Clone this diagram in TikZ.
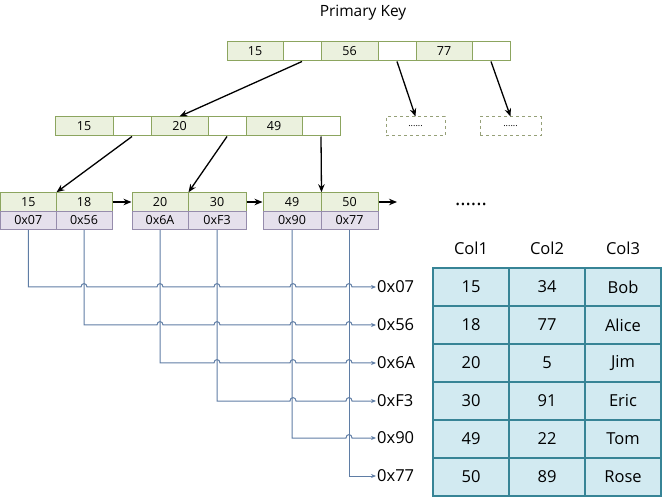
\documentclass[tikz,border=0pt]{standalone}
\usepackage{fontspec}
\setmainfont{Open Sans}
\usetikzlibrary{arrows.meta}
\definecolor{gfill}{RGB}{235,241,222}
\definecolor{gline}{RGB}{140,165,95}
\definecolor{pfill}{RGB}{229,224,236}
\definecolor{pline}{RGB}{150,140,172}
\definecolor{tfill}{RGB}{210,234,241}
\definecolor{tline}{RGB}{55,132,150}
\definecolor{bline}{RGB}{95,125,165}
\definecolor{dline}{RGB}{150,160,120}
\begin{document}
\begin{tikzpicture}[x=1pt,y=-1pt,
  cell/.style={draw=gline, line width=1pt, inner sep=0pt, minimum height=19pt, font=\fontsize{12.5}{14}\selectfont},
  gcell/.style={cell, fill=gfill},
  wcell/.style={cell, fill=white},
  lgcell/.style={cell, fill=gfill, minimum height=18.5pt},
  pcell/.style={cell, draw=pline, fill=pfill, minimum height=18.5pt},
  dbox/.style={draw=dline, dashed, line width=1pt, fill=white, inner sep=0pt, minimum height=19pt, font=\fontsize{9}{10}\selectfont},
  barrow/.style={draw=black, line width=1.3pt, -{Stealth[length=8pt,width=6.5pt]}},
  blconn/.style={draw=bline, line width=1pt, -{Stealth[length=5pt,width=4pt]}},
  addr/.style={anchor=west, inner sep=1pt, font=\fontsize{16.5}{18}\selectfont},
  tcell/.style={draw=tline, fill=tfill, line width=1.5pt, minimum width=76pt, minimum height=38pt, inner sep=0pt, font=\fontsize{16.5}{18}\selectfont},
  thead/.style={inner sep=0pt, font=\fontsize{16.5}{18}\selectfont}
]
\useasboundingbox (0,0) rectangle (662,497);

\node[font=\fontsize{15.5}{18}\selectfont] (title) at (363,13) {Primary Key};

% root
\node[gcell, minimum width=56] (t1) at (255,51.5) {15};
\node[wcell, minimum width=38] (t2) at (302,51.5) {};
\node[gcell, minimum width=57] (t3) at (349.5,51.5) {56};
\node[wcell, minimum width=38] (t4) at (397,51.5) {};
\node[gcell, minimum width=56] (t5) at (444,51.5) {77};
\node[wcell, minimum width=38] (t6) at (491,51.5) {};

% level 2
\node[gcell, minimum width=58] (l1) at (84,126.5) {15};
\node[wcell, minimum width=38] (l2) at (132,126.5) {};
\node[gcell, minimum width=57] (l3) at (179.5,126.5) {20};
\node[wcell, minimum width=38] (l4) at (227,126.5) {};
\node[gcell, minimum width=56] (l5) at (274,126.5) {49};
\node[wcell, minimum width=38] (l6) at (321,126.5) {};

\node[dbox, minimum width=59] (d1) at (415.5,126.5) {......};
\node[dbox, minimum width=61] (d2) at (510.5,126.5) {......};

% leaves
\node[lgcell, minimum width=55.5] (a1) at (28.25,202) {15};
\node[lgcell, minimum width=56] (a2) at (84,202) {18};
\node[pcell, minimum width=55.5] (a3) at (28.25,220.5) {0x07};
\node[pcell, minimum width=56] (a4) at (84,220.5) {0x56};

\node[lgcell, minimum width=56] (b1) at (160,202) {20};
\node[lgcell, minimum width=58] (b2) at (217,202) {30};
\node[pcell, minimum width=56] (b3) at (160,220.5) {0x6A};
\node[pcell, minimum width=58] (b4) at (217,220.5) {0xF3};

\node[lgcell, minimum width=58] (c1) at (292,202) {49};
\node[lgcell, minimum width=57] (c2) at (349.5,202) {50};
\node[pcell, minimum width=58] (c3) at (292,220.5) {0x90};
\node[pcell, minimum width=57] (c4) at (349.5,220.5) {0x77};

\coordinate (cend) at (397,202);
\node[font=\fontsize{20}{22}\selectfont, inner sep=0pt] (dots) at (471,204) {......};

% black arrows
\draw[barrow] (t2.south) -- (l3.north);
\draw[barrow] (t4.south) -- (d1.north);
\draw[barrow] (t6.south) -- (d2.north);
\draw[barrow] (l2.south) -- (a1.north east);
\draw[barrow] (l4.south) -- (b1.north east);
\draw[barrow] (l6.south) -- (c1.north east);
\draw[barrow] (a2.east) -- (b1.west);
\draw[barrow] (b2.east) -- (c1.west);
\draw[barrow] (c2.east) -- (cend);

% address labels
\node[addr] (r1) at (376,287) {0x07};
\node[addr] (r2) at (376,325) {0x56};
\node[addr] (r3) at (376,363) {0x6A};
\node[addr] (r4) at (376,401) {0xF3};
\node[addr] (r5) at (376,438) {0x90};
\node[addr] (r6) at (376,476) {0x77};

% blue connectors with line jumps
\draw[blconn] (a3.south) -- (a3.south |- r1.west)
  \foreach \x in {84,160,217,293,349}{ -- ({\x-3},287) .. controls ({\x-3},282.5) and ({\x+3},282.5) .. ({\x+3},287)} -- (r1.west);
\draw[blconn] (a4.south) -- (a4.south |- r2.west)
  \foreach \x in {160,217,293,349}{ -- ({\x-3},325) .. controls ({\x-3},320.5) and ({\x+3},320.5) .. ({\x+3},325)} -- (r2.west);
\draw[blconn] (b3.south) -- (b3.south |- r3.west)
  \foreach \x in {217,293,349}{ -- ({\x-3},363) .. controls ({\x-3},358.5) and ({\x+3},358.5) .. ({\x+3},363)} -- (r3.west);
\draw[blconn] (b4.south) -- (b4.south |- r4.west)
  \foreach \x in {293,349}{ -- ({\x-3},401) .. controls ({\x-3},396.5) and ({\x+3},396.5) .. ({\x+3},401)} -- (r4.west);
\draw[blconn] (c3.south) -- (c3.south |- r5.west)
  \foreach \x in {349}{ -- ({\x-3},438) .. controls ({\x-3},433.5) and ({\x+3},433.5) .. ({\x+3},438)} -- (r5.west);
\draw[blconn] (c4.south) -- (c4.south |- r6.west) -- (r6.west);

% table
\node[thead] (h1) at (471,248) {Col1};
\node[thead] (h2) at (547,248) {Col2};
\node[thead] (h3) at (623,248) {Col3};
\foreach \a/\b/\c [count=\i] in {15/34/Bob,18/77/Alice,20/5/Jim,30/91/Eric,49/22/Tom,50/89/Rose}{
  \node[tcell] (ca\i) at (471,{249+38*\i}) {\a};
  \node[tcell] (cb\i) at (547,{249+38*\i}) {\b};
  \node[tcell] (cc\i) at (623,{249+38*\i}) {\c};
}
\end{tikzpicture}
\end{document}
